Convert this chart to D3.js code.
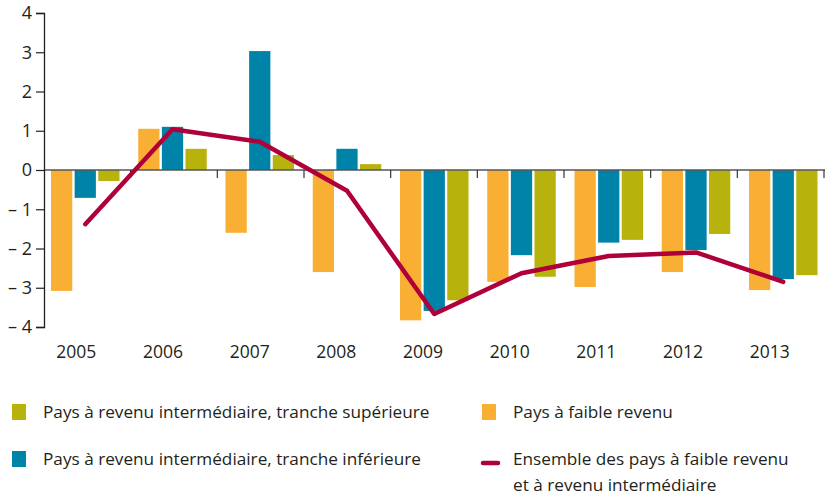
<!DOCTYPE html>
<html>
<head>
<meta charset="utf-8">
<script src="https://cdn.jsdelivr.net/npm/d3@7"></script>
<style>
  body { margin: 0; background: #fff; }
  text { font-family: "Open Sans", "Noto Sans", sans-serif; fill: #231f20; }
</style>
</head>
<body>
<svg id="chart" width="825" height="497"></svg>
<script>
// values
const years = ["2005", "2006", "2007", "2008", "2009", "2010", "2011", "2012", "2013"];
const lowIncome = [-3.08, 1.05, -1.6, -2.6, -3.83, -2.85, -2.98, -2.6, -3.06];
const lowerMiddle = [-0.71, 1.1, 3.03, 0.54, -3.59, -2.17, -1.85, -2.04, -2.78];
const upperMiddle = [-0.28, 0.54, 0.38, 0.15, -3.32, -2.72, -1.78, -1.63, -2.68];
const allCountries = [-1.38, 1.04, 0.72, -0.53, -3.67, -2.63, -2.19, -2.1, -2.85];
const yTicks = [-4, -3, -2, -1, 0, 1, 2, 3, 4];

const seriesNames = ["low", "lower", "upper"];
const colors = { low: "#f9ae34", lower: "#0083a9", upper: "#b7b30c", line: "#b0003a" };

const svg = d3.select("#chart");

const y = d3.scaleLinear().domain([-4, 4]).range([327, 13]);

// band scale for the tick marks / year labels
const xAxisScale = d3.scaleBand().domain(years).range([44, 824]);
// band scale for the bar groups (slightly wider spacing in the original)
const xGroup = d3.scaleBand().domain(years).range([51, 836.25]);
const xInner = d3.scaleBand().domain(seriesNames).range([0, 68.5]).paddingInner(0.1).paddingOuter(0);

const table = years.map((yr, i) => ({
    year: yr,
    values: [
        { key: "low", v: lowIncome[i] },
        { key: "lower", v: lowerMiddle[i] },
        { key: "upper", v: upperMiddle[i] }
    ]
}));

// bars
const groups = svg.append("g").selectAll("g")
    .data(table)
    .join("g")
    .attr("transform", d => "translate(" + xGroup(d.year) + ",0)");

groups.selectAll("rect")
    .data(d => d.values)
    .join("rect")
    .attr("x", d => xInner(d.key))
    .attr("width", xInner.bandwidth())
    .attr("y", d => y(Math.max(0, d.v)))
    .attr("height", d => Math.abs(y(d.v) - y(0)))
    .attr("fill", d => colors[d.key]);

// zero line + boundary ticks
svg.append("line")
    .attr("x1", 44).attr("x2", 825)
    .attr("y1", y(0)).attr("y2", y(0))
    .attr("stroke", "#555").attr("stroke-width", 1.5);

const bounds = years.slice(1).map(yr => xAxisScale(yr)).concat([xAxisScale.range()[1]]);
svg.append("g").selectAll("line")
    .data(bounds)
    .join("line")
    .attr("x1", d => d).attr("x2", d => d)
    .attr("y1", y(0)).attr("y2", y(0) + 8)
    .attr("stroke", "#333").attr("stroke-width", 1.2);

// year labels
const xAxis = svg.append("g")
    .attr("transform", "translate(-11," + 327 + ")")
    .call(d3.axisBottom(xAxisScale).tickSize(0).tickPadding(19));
xAxis.select(".domain").remove();
xAxis.selectAll("text")
    .attr("font-size", 17.5)
    .attr("fill", "#231f20")
    .attr("font-family", "\"Open Sans\", sans-serif");

// y axis
const yAxis = svg.append("g")
    .attr("transform", "translate(44,0)")
    .call(d3.axisLeft(y).tickValues(yTicks).tickSize(8).tickPadding(4)
        .tickFormat(d => d < 0 ? "\u2013 " + Math.abs(d) : d));
yAxis.select(".domain").attr("stroke", "#231f20").attr("stroke-width", 1.3);
yAxis.selectAll(".tick line").attr("stroke", "#231f20").attr("stroke-width", 1.2);
yAxis.selectAll("text")
    .attr("font-size", 18)
    .attr("fill", "#231f20")
    .attr("font-family", "\"Open Sans\", sans-serif");

// line for all low and middle income countries
const line = d3.line()
    .x((d, i) => xGroup(years[i]) + xInner("lower") + xInner.bandwidth() / 2)
    .y(d => y(d));

svg.append("path")
    .attr("d", line(allCountries))
    .attr("fill", "none")
    .attr("stroke", colors.line)
    .attr("stroke-width", 4.5)
    .attr("stroke-linejoin", "round")
    .attr("stroke-linecap", "round");

// legend
const legend = svg.append("g");
const legendItems = [
    { x: 12, y: 404, type: "rect", color: colors.upper, lines: ["Pays à revenu intermédiaire, tranche supérieure"] },
    { x: 12, y: 451, type: "rect", color: colors.lower, lines: ["Pays à revenu intermédiaire, tranche inférieure"] },
    { x: 482, y: 404, type: "rect", color: colors.low, lines: ["Pays à faible revenu"] },
    { x: 482, y: 451, type: "line", color: colors.line, lines: ["Ensemble des pays à faible revenu", "et à revenu intermédiaire"] }
];

legendItems.forEach(item => {
    if (item.type === "rect") {
        legend.append("rect")
            .attr("x", item.x).attr("y", item.y)
            .attr("width", 14).attr("height", 16)
            .attr("fill", item.color);
    } else {
        legend.append("line")
            .attr("x1", item.x + 1).attr("x2", item.x + 16)
            .attr("y1", item.y + 12).attr("y2", item.y + 12)
            .attr("stroke", item.color).attr("stroke-width", 4.5)
            .attr("stroke-linecap", "round");
    }
    item.lines.forEach((t, i) => {
        legend.append("text")
            .attr("x", item.x + 31)
            .attr("y", item.y + 14 + i * 26)
            .attr("font-size", 17.2)
            .text(t);
    });
});
</script>
</body>
</html>
